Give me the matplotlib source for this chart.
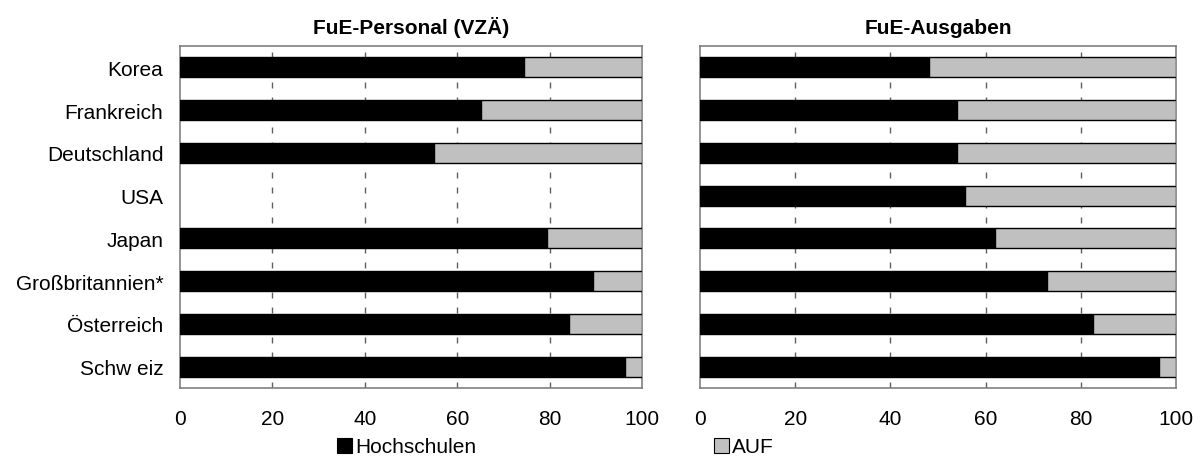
import matplotlib
matplotlib.use("Agg")
import matplotlib.pyplot as plt
from matplotlib.patches import Patch

plt.rcParams['font.family'] = ['Liberation Sans', 'DejaVu Sans']

countries = ["Korea", "Frankreich", "Deutschland", "USA", "Japan",
             "Großbritannien*", "Österreich", "Schw eiz"]
personal_hs = [74.5, 65.1, 55.0, None, 79.4, 89.3, 84.1, 96.3]
ausgaben_hs = [48.1, 54.0, 54.0, 55.7, 61.9, 72.9, 82.6, 96.5]
titles = ["FuE-Personal (VZÄ)", "FuE-Ausgaben"]
xticks = [0, 20, 40, 60, 80, 100]
legend_labels = ["Hochschulen", "AUF"]

FS = 15

fig = plt.figure(figsize=(11.95, 4.64), dpi=100)
ax1 = fig.add_axes([180/1195, 1-389/464, 462/1195, 342/464])
ax2 = fig.add_axes([700/1195, 1-389/464, 476/1195, 342/464])

for ax, hs, title in [(ax1, personal_hs, titles[0]), (ax2, ausgaben_hs, titles[1])]:
    ypos = list(range(len(countries)))
    for y, v in zip(ypos, hs):
        if v is None:
            continue
        ax.barh(y, v, height=0.47, color='black', edgecolor='black', linewidth=1, zorder=3)
        ax.barh(y, 100 - v, left=v, height=0.47, color='#c0c0c0', edgecolor='black',
                linewidth=1, zorder=3)
    ax.set_xlim(0, 100)
    ax.set_ylim(len(countries) - 0.5, -0.5)
    ax.set_xticks(xticks)
    ax.set_xticklabels([str(t) for t in xticks], fontsize=FS)
    ax.tick_params(axis='x', length=0, pad=15)
    ax.tick_params(axis='y', length=0, pad=12)
    for t in xticks[1:-1]:
        ax.axvline(t, color='#606060', linestyle=(0, (4.3, 6.5)), linewidth=1.0, zorder=1)
    for s in ax.spines.values():
        s.set_color('#808080')
        s.set_linewidth(1.2)
    ax.set_title(title, fontsize=FS, fontweight='bold', pad=9)

ax1.set_yticks(range(len(countries)))
ax1.set_yticklabels(countries, fontsize=FS)
ax2.set_yticks([])

for lab, col, xpix in [(legend_labels[0], 'black', 337), (legend_labels[1], '#c0c0c0', 714)]:
    fig.legend(handles=[Patch(facecolor=col, edgecolor='black', linewidth=0.8)], labels=[lab],
               loc='center left', bbox_to_anchor=(xpix/1195, 1-448/464), frameon=False,
               fontsize=FS, handlelength=0.72, handleheight=0.72, handletextpad=0.15,
               borderpad=0, borderaxespad=0)

fig.savefig("out.png", dpi=100)
